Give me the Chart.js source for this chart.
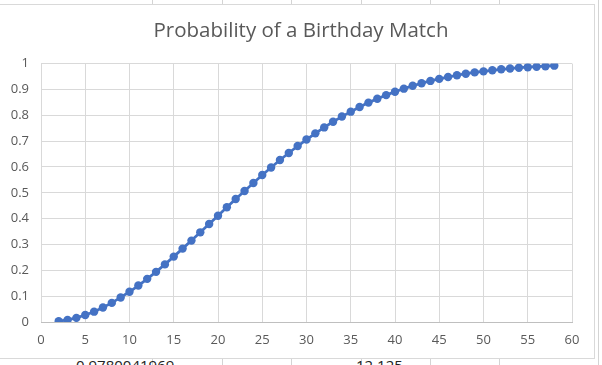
<!DOCTYPE html>
<html>
<head>
<meta charset="utf-8">
<script src="https://cdn.jsdelivr.net/npm/chart.js@4.4.0/dist/chart.umd.min.js"></script>
<style>
  html, body { margin: 0; padding: 0; background: #fff; }
  body { width: 602px; height: 365px; position: relative; overflow: hidden; font-family: "Open Sans", sans-serif; }
  .cell { position: absolute; font-size: 15px; color: #222; white-space: nowrap; }
  .vline { position: absolute; width: 1px; background: #d4d4d4; }
  #wrap { position: absolute; left: 0; top: 0; width: 602px; height: 365px; }
  #frame { position: absolute; left: -1px; top: 4px; width: 594px; height: 353px; border: 1px solid #d9d9d9; background: #fff; }
</style>
</head>
<body>
<!-- spreadsheet behind the chart -->
<div class="vline" style="left:152px;top:0;height:365px"></div>
<div class="vline" style="left:222px;top:0;height:365px"></div>
<div class="vline" style="left:291px;top:0;height:365px"></div>
<div class="vline" style="left:361px;top:0;height:365px"></div>
<div class="vline" style="left:430px;top:0;height:365px"></div>
<div class="vline" style="left:499px;top:0;height:365px"></div>
<div class="vline" style="left:598px;top:0;height:365px"></div>
<div class="cell" style="left:72px;top:-16px">0.0000000</div>
<div class="cell" style="left:300px;top:-16px">1 00 221</div>
<div class="cell" style="left:76px;top:355px">0.9780041969</div>
<div class="cell" style="left:356px;top:355px">12 125</div>
<div id="frame"></div>
<div id="wrap"><canvas id="chart" width="602" height="365"></canvas></div>
<script>
const title = "Probability of a Birthday Match";

// people in the room
const people = [2, 3, 4, 5, 6, 7, 8, 9, 10, 11, 12, 13, 14, 15, 16, 17, 18, 19, 20,
  21, 22, 23, 24, 25, 26, 27, 28, 29, 30, 31, 32, 33, 34, 35, 36, 37, 38, 39, 40,
  41, 42, 43, 44, 45, 46, 47, 48, 49, 50, 51, 52, 53, 54, 55, 56, 57, 58];

// probability of at least one shared birthday
const probability = [0.003, 0.008, 0.016, 0.027, 0.040, 0.056, 0.074, 0.095, 0.117,
  0.141, 0.167, 0.194, 0.223, 0.253, 0.284, 0.315, 0.347, 0.379, 0.411, 0.444,
  0.476, 0.507, 0.538, 0.569, 0.598, 0.627, 0.654, 0.681, 0.706, 0.730, 0.753,
  0.775, 0.795, 0.814, 0.832, 0.849, 0.864, 0.878, 0.891, 0.903, 0.914, 0.924,
  0.933, 0.941, 0.948, 0.955, 0.961, 0.966, 0.970, 0.974, 0.978, 0.981, 0.984,
  0.986, 0.988, 0.990, 0.992];

const xTicks = [0, 5, 10, 15, 20, 25, 30, 35, 40, 45, 50, 55, 60];
const yTicks = [0, 0.1, 0.2, 0.3, 0.4, 0.5, 0.6, 0.7, 0.8, 0.9, 1];

const points = people.map((p, i) => ({ x: p, y: probability[i] }));
const blue = "#4472C4";
const gray = "#595959";

const ctx = document.getElementById("chart");

new Chart(ctx, {
  type: "scatter",
  data: {
    datasets: [{
      label: "Probability",
      data: points,
      showLine: true,
      borderColor: blue,
      backgroundColor: blue,
      borderWidth: 2.75,
      pointRadius: 4.2,
      pointBorderWidth: 0,
      tension: 0
    }]
  },
  options: {
    responsive: false,
    animation: false,
    layout: {
      padding: 0
    },
    plugins: {
      legend: { display: false },
      tooltip: { enabled: false },
      title: {
        display: true,
        text: title,
        color: gray,
        font: { family: "Open Sans", size: 20.5, weight: "normal" },
        padding: { top: 19, bottom: 20 }
      }
    },
    scales: {
      x: {
        type: "linear",
        min: 0,
        max: 60,
        afterBuildTicks: axis => { axis.ticks = xTicks.map(v => ({ value: v })); },
        afterFit: axis => { axis.height = 43; },
        grid: { color: "#d9d9d9", drawTicks: false },
        border: { color: "#bfbfbf" },
        ticks: { color: gray, padding: 10, font: { family: "Open Sans", size: 13 } }
      },
      y: {
        type: "linear",
        min: 0,
        max: 1,
        afterBuildTicks: axis => { axis.ticks = yTicks.map(v => ({ value: v })); },
        afterFit: axis => { axis.width = 41; },
        grid: { color: "#d9d9d9", drawTicks: false },
        border: { display: false },
        ticks: {
          color: gray,
          padding: 12,
          font: { family: "Open Sans", size: 13 },
          callback: v => String(Math.round(v * 10) / 10)
        }
      },
      // empty right-hand space so the title centres on the whole frame
      yRight: {
        type: "linear",
        position: "right",
        display: true,
        afterFit: axis => { axis.width = 30; },
        grid: { display: false },
        border: { display: false },
        ticks: { display: false }
      }
    }
  }
});
</script>
</body>
</html>
